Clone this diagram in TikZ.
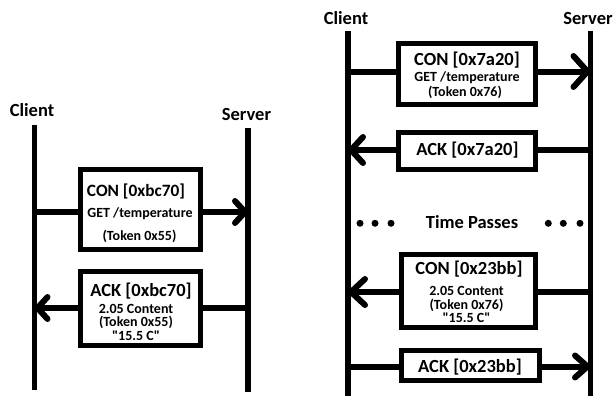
\documentclass[tikz,border=0pt]{standalone}
\usepackage{fontspec}
\setmainfont{Carlito}
\usetikzlibrary{arrows.meta}
\newcommand\threeline[5]{\vbox{\baselineskip=0pt\lineskiplimit=-100pt\lineskip=0pt\halign{\hfil##\hfil\cr #1\cr\noalign{\kern#4}#2\cr\noalign{\kern#5}#3\cr}}}
\newcommand\qq[1]{\textquotedbl#1\textquotedbl}
\begin{document}
\begin{tikzpicture}[x=1pt,y=-1pt,
  life/.style={line width=5.5pt},
  msg/.style={line width=6pt},
  box/.style={draw,line width=5pt,inner sep=0pt,fill=white},
  hd/.style={inner sep=0pt,anchor=base,font=\fontsize{18.5}{20}\selectfont\bfseries},
  sm/.style={inner sep=0pt,anchor=base,font=\fontsize{14}{16}\selectfont\bfseries},
  tip/.style 2 args={-{Straight Barb[length=#1,width=#2,round]}},
  dotn/.style={circle,fill,inner sep=0pt,minimum size=7pt}]
\useasboundingbox (0,0) rectangle (615,396);
% lifelines
\coordinate (lct) at (34.5,125); \coordinate (lcb) at (34.5,390);
\coordinate (lst) at (248,128); \coordinate (lsb) at (248,392);
\coordinate (rct) at (348,31.5); \coordinate (rcb) at (348,396);
\coordinate (rst) at (590.5,31) ; \coordinate (rsb) at (590.5,396);
\draw[life] (lct) -- (lcb);
\draw[life] (lst) -- (lsb);
\draw[life] (rct) -- (rcb);
\draw[life] (rst) -- (rsb);
% labels
\node[hd] (lcl) at (32,116) {Client};
\node[hd] (lsl) at (246.5,120) {Server};
\node[hd] (rcl) at (346,25) {Client};
\node[hd] (rsl) at (588,25) {Server};
% boxes
\node[box,minimum width=120pt,minimum height=80pt] (con1) at (140.5,209.5) {};
\node[box,minimum width=120pt,minimum height=74pt] (ack1) at (140.5,308.5) {};
\node[box,minimum width=137pt,minimum height=61pt] (con2) at (467,74) {};
\node[box,minimum width=137pt,minimum height=37pt] (ack2) at (467,151) {};
\node[box,minimum width=134pt,minimum height=73pt] (con3) at (468.5,291) {};
\node[box,minimum width=138pt,minimum height=30pt] (ack3) at (470.5,365.5) {};
% anchor coordinates on lifelines
\coordinate (a1c) at (34.5,212); \coordinate (a1s) at (248,212);
\coordinate (a2c) at (34.5,308); \coordinate (a2s) at (248,308);
\coordinate (a3c) at (348,71.5); \coordinate (a3s) at (590.5,71.5);
\coordinate (a4c) at (348,150); \coordinate (a4s) at (590.5,150);
\coordinate (a5c) at (348,292); \coordinate (a5s) at (590.5,292);
\coordinate (a6c) at (348,366.5); \coordinate (a6s) at (590.5,366.5);
% connectors
\draw[msg] (a1c) -- (a1c -| con1.west);
\draw[msg,tip={10pt}{22pt}] (con1.east |- a1s) -- (a1s);
\draw[msg] (a2s) -- (a2s -| ack1.east);
\draw[msg,tip={10pt}{22pt}] (ack1.west |- a2c) -- (a2c);
\draw[msg] (a3c) -- (a3c -| con2.west);
\draw[msg,tip={14pt}{31pt}] (con2.east |- a3s) -- (a3s);
\draw[msg] (a4s) -- (a4s -| ack2.east);
\draw[msg,tip={12pt}{26pt}] (ack2.west |- a4c) -- (a4c);
\draw[msg] (a5s) -- (a5s -| con3.east);
\draw[msg,tip={14pt}{26pt}] (con3.west |- a5c) -- (a5c);
\draw[msg] (a6c) -- (a6c -| ack3.west);
\draw[msg,tip={12.5pt}{22pt}] (ack3.east |- a6s) -- (a6s);
% texts
\node[hd,font=\fontsize{17.3}{19}\selectfont\bfseries] (t1a) at (136,196) {CON [0xbc70]};
\node[sm] (t1b) at (140,217.7) {GET /temperature};
\node[sm] (t1c) at (139.5,240) {(Token 0x55)};
\node[hd] (t2a) at (141,296) {ACK [0xbc70]};
\node[sm] (t2b) at (136,340.5) {\threeline{2.05 Content}{(Token 0x55)}{\qq{15.5 C}}{13.5pt}{14pt}};
\node[hd] (t3a) at (467,65.7) {CON [0x7a20]};
\node[sm] (t3b) at (467,81.7) {GET /temperature};
\node[sm] (t3c) at (465,96.7) {(Token 0x76)};
\node[hd] (t4) at (467.5,155.7) {ACK [0x7a20]};
\node[hd] (tp) at (472,228.3) {Time Passes};
\node[hd] (t5a) at (469,274) {CON [0x23bb]};
\node[sm] (t5b) at (466.5,322.5) {\threeline{2.05 Content}{(Token 0x76)}{\qq{15.5 C}}{13.5pt}{13.5pt}};
\node[hd] (t6) at (470,372.7) {ACK [0x23bb]};
% dots
\node[dotn] (d1) at (360,223.3) {};
\node[dotn] (d2) at (375,223.3) {};
\node[dotn] (d3) at (391,223.3) {};
\node[dotn] (d4) at (548.3,223.3) {};
\node[dotn] (d5) at (563.3,223.3) {};
\node[dotn] (d6) at (580,223.3) {};
\end{tikzpicture}
\end{document}
